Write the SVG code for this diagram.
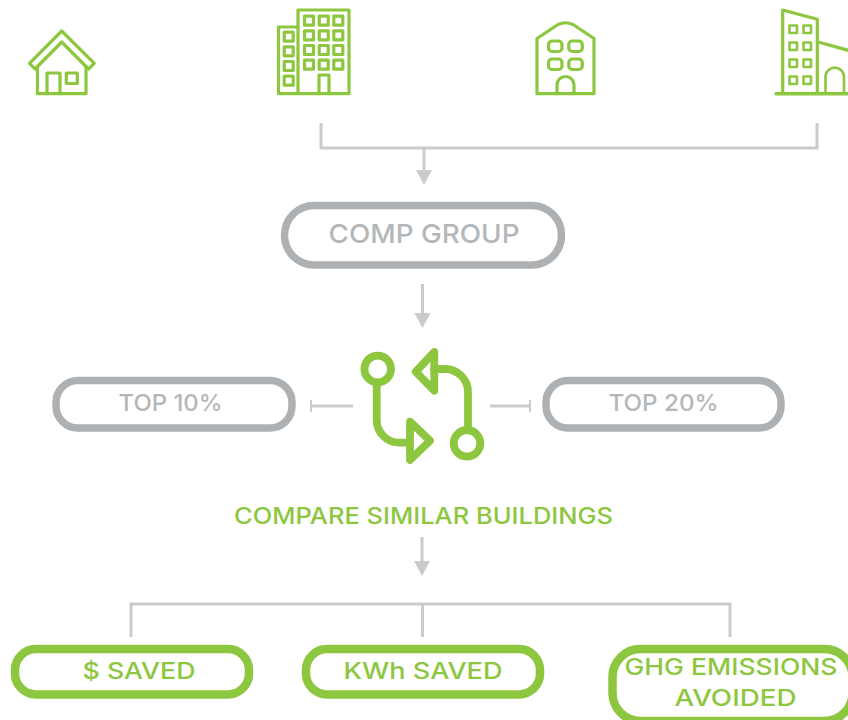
<svg xmlns="http://www.w3.org/2000/svg" width="848" height="720" viewBox="0 0 848 720">
<style>
.ic{fill:none;stroke:#8dc63f;stroke-width:3.2;stroke-linejoin:round;stroke-linecap:round}
.thin{stroke-width:2.6}
.cy{fill:none;stroke:#8dc63f;stroke-width:7.8;stroke-linejoin:round;stroke-linecap:round}
.con{fill:none;stroke:#c9cbcc;stroke-width:3}
.head{fill:#c9cbcc}
.pg{fill:#fff;stroke:#aeb1b4;stroke-width:7.5}
.pv{fill:#fff;stroke:#8dc63f;stroke-width:8.5}
text{font-family:"Inter","Liberation Sans",sans-serif;font-weight:500;text-anchor:middle;font-size:23px}
.tg{fill:#b4b7ba}
.tv{fill:#8dc63f}
</style>
<g id="house" class="ic">
<path d="M61.700 31L29.500 63.300L35 69L61.700 42L88.500 69L94.300 63.300Z"/>
<path d="M37.500 66V93.700H86V66"/>
<path d="M47 93.700V73H60V93.700"/>
<rect x="66.300" y="73" width="11" height="10.500"/>
</g>
<g id="office" class="ic">
<path d="M298 27H278.500V93.700H349V10H298V93.700"/>
<g>
<rect x="304.500" y="16.200" width="9" height="9"/><rect x="319.200" y="16.200" width="9" height="9"/><rect x="333.800" y="16.200" width="9" height="9"/>
<rect x="304.500" y="30.800" width="9" height="9"/><rect x="319.200" y="30.800" width="9" height="9"/><rect x="333.800" y="30.800" width="9" height="9"/>
<rect x="304.500" y="45.500" width="9" height="9"/><rect x="319.200" y="45.500" width="9" height="9"/><rect x="333.800" y="45.500" width="9" height="9"/>
<rect x="304.500" y="60.200" width="9" height="9"/><rect x="319.200" y="60.200" width="9" height="9"/><rect x="333.800" y="60.200" width="9" height="9"/>
<rect x="284.200" y="32.200" width="9" height="9"/><rect x="284.200" y="46.800" width="9" height="9"/><rect x="284.200" y="61.500" width="9" height="9"/><rect x="284.200" y="76.200" width="9" height="9"/>
</g>
<path d="M319 93.700V75H329V93.700"/>
</g>
<g id="apartment" class="ic">
<path d="M537 93.700V38.500L558 24.500Q565.500 21 573 24.500L594 38.500V93.700Z"/>
<rect x="548.500" y="41" width="13.500" height="10.500" rx="3.500"/><rect x="568.800" y="41" width="13.500" height="10.500" rx="3.500"/>
<rect x="548.500" y="59" width="13.500" height="10.500" rx="3.500"/><rect x="568.800" y="59" width="13.500" height="10.500" rx="3.500"/>
<path d="M557 93.700V85A8.500 8.500 0 0 1 574 85V93.700"/>
</g>
<g id="tower" class="ic">
<path d="M782.700 93.500V10L817.300 19.300V93.500"/>
<path d="M817.300 41.700L850 50.800"/>
<path d="M776 93.700H850" stroke-width="3.400"/>
<path class="thin" d="M825.500 93.500V76A9.300 9.300 0 0 1 844 76V93.500"/>
<g class="thin">
<rect x="789.500" y="25.500" width="7.500" height="7.500"/><rect x="803.500" y="25.500" width="7.500" height="7.500"/>
<rect x="789.500" y="42.500" width="7.500" height="7.500"/><rect x="803.500" y="42.500" width="7.500" height="7.500"/>
<rect x="789.500" y="59.500" width="7.500" height="7.500"/><rect x="803.500" y="59.500" width="7.500" height="7.500"/>
<rect x="789.500" y="76.500" width="7.500" height="7.500"/><rect x="803.500" y="76.500" width="7.500" height="7.500"/>
</g>
</g>
<g id="connectors">
<path class="con" d="M321 123V148H817V123M424 148V171"/>
<path class="head" d="M416 170H432L424 185Z"/>
<path class="con" d="M422.500 284V314"/>
<path class="head" d="M414.500 313H430.500L422.500 328Z"/>
<path class="con" d="M311 400V412" style="stroke-width:2"/>
<path class="con" d="M311 406H353"/>
<path class="con" d="M530 400V412" style="stroke-width:2"/>
<path class="con" d="M530 406H490"/>
<path class="con" d="M422 537V562"/>
<path class="head" d="M414 561H430L422 576Z"/>
<path class="con" d="M131 637V604H730V637M422.500 604V637"/>
</g>
<g id="comp-group">
<rect class="pg" x="284.500" y="205.500" width="277" height="59.500" rx="29.700"/>
<text class="tg" x="424" y="243" style="font-size:26px" textLength="191" lengthAdjust="spacingAndGlyphs">COMP GROUP</text>
</g>
<g id="top-10">
<rect class="pg" x="56" y="380.500" width="236" height="47.500" rx="22"/>
<text class="tg" x="170.500" y="411" textLength="104" lengthAdjust="spacingAndGlyphs">TOP 10%</text>
</g>
<g id="top-20">
<rect class="pg" x="546" y="380.500" width="235" height="47.500" rx="22"/>
<text class="tg" x="663.500" y="411" textLength="110" lengthAdjust="spacingAndGlyphs">TOP 20%</text>
</g>
<g id="compare">
<circle class="cy" cx="377.700" cy="369" r="13.300"/>
<path class="cy" d="M376.700 383V420A22.700 22.700 0 0 0 399.400 442.700H410"/>
<path class="cy" d="M410 421.700L430 440.700L410 460Z"/>
<circle class="cy" cx="467" cy="443.300" r="13.300"/>
<path class="cy" d="M468 429V392A23 23 0 0 0 445 369H434"/>
<path class="cy" d="M434.300 352L415.700 371.700L434.300 390.700Z"/>
<text class="tv" x="423.500" y="524" textLength="379" lengthAdjust="spacingAndGlyphs">COMPARE SIMILAR BUILDINGS</text>
</g>
<g id="saved-money">
<rect class="pv" x="15" y="649" width="234" height="45.500" rx="21"/>
<text class="tv" x="139" y="679" textLength="113" lengthAdjust="spacingAndGlyphs">$ SAVED</text>
</g>
<g id="saved-kwh">
<rect class="pv" x="306" y="649" width="234" height="45.500" rx="21"/>
<text class="tv" x="423" y="679" textLength="159" lengthAdjust="spacingAndGlyphs">KWh SAVED</text>
</g>
<g id="ghg">
<rect class="pv" x="612.500" y="649" width="240" height="72" rx="28"/>
<text class="tv" x="731" y="675" textLength="213" lengthAdjust="spacingAndGlyphs">GHG EMISSIONS</text>
<text class="tv" x="735.500" y="706" textLength="122" lengthAdjust="spacingAndGlyphs">AVOIDED</text>
</g>
</svg>
